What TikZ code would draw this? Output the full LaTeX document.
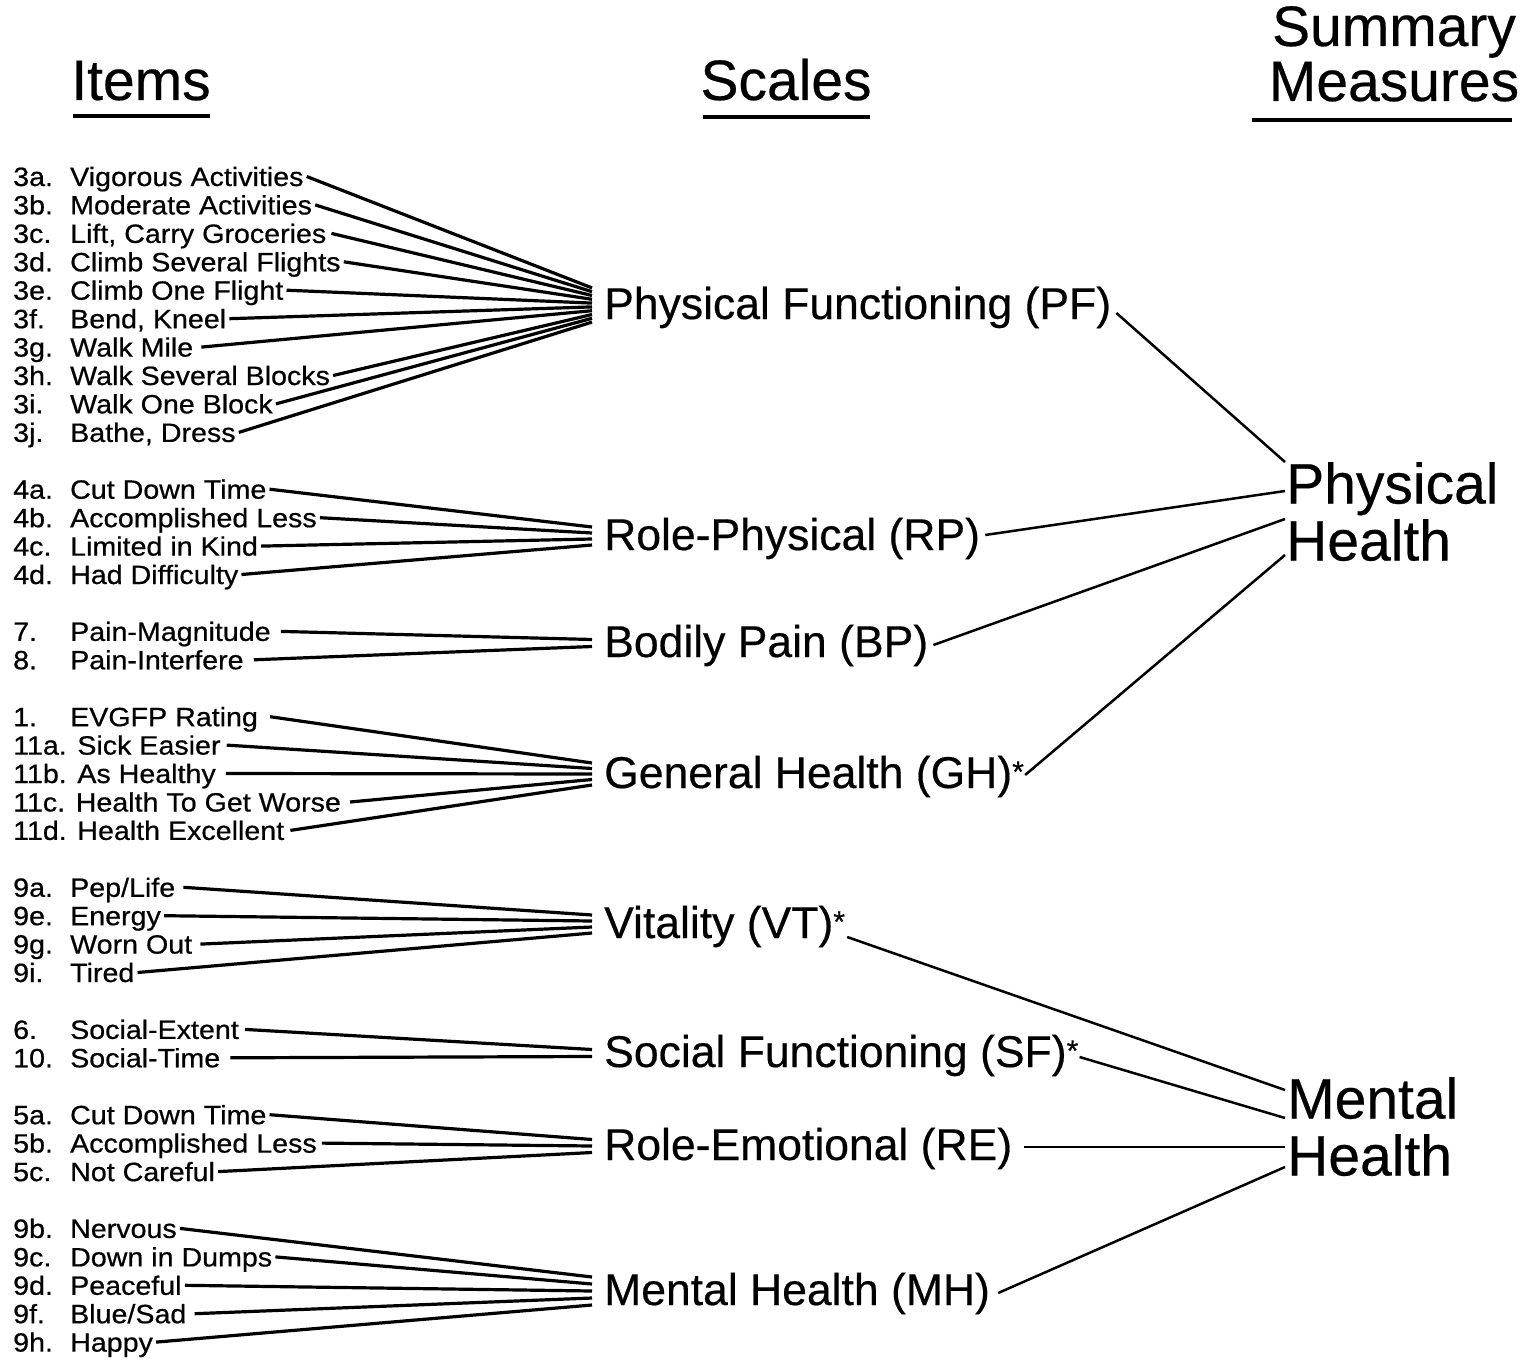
\documentclass[tikz,border=0pt]{standalone}
\usepackage{fontspec}
\setmainfont{Liberation Sans}
\newfontfamily\itemfont[FakeStretch=1.08,FakeBold=0.6]{Liberation Sans}
\newfontfamily\scalefont[FakeBold=0.4]{Liberation Sans}
\newcommand{\nm}[1]{\makebox[57pt][l]{#1}}
\newcommand{\sfast}{\raisebox{6pt}{\fontsize{30pt}{30pt}\selectfont *}}
\begin{document}
\begin{tikzpicture}[x=1pt,y=-1pt,
  itemlbl/.style={anchor=base west, inner sep=0pt, font={\itemfont\fontsize{26.5pt}{26.5pt}\selectfont}},
  scalelbl/.style={anchor=base west, inner sep=0pt, font={\scalefont\fontsize{44.5pt}{44.5pt}\selectfont}},
  hdr/.style={anchor=base, inner sep=0pt, font={\scalefont\fontsize{57pt}{57pt}\selectfont}},
  summ/.style={anchor=north west, inner sep=0pt, align=left, font={\scalefont\fontsize{57pt}{57pt}\selectfont}},
  iline/.style={line width=3.2pt},
  sline/.style={line width=2.5pt},
  uline/.style={line width=4pt}]
\useasboundingbox (0,0) rectangle (1529,1362);

% headers
\node[hdr] (hitems) at (141,100) {Items};
\node[hdr] (hscales) at (786,100) {Scales};
\node[hdr] (hsum1) at (1394,46) {Summary};
\node[hdr] (hsum2) at (1394,101) {Measures};
\draw[uline] (73,116) -- (210,116);
\draw[uline] (703,117) -- (870,117);
\draw[uline] (1252,120) -- (1512,120);

% scales
\node[scalelbl] (pf) at (604,319) {Physical Functioning (PF)};
\node[scalelbl] (rp) at (604,550) {Role-Physical (RP)};
\node[scalelbl] (bp) at (604,657) {Bodily Pain (BP)};
\node[scalelbl] (gh) at (604,788) {General Health (GH)\sfast};
\node[scalelbl] (vt) at (604,938) {Vitality (VT)\sfast};
\node[scalelbl] (sf) at (604,1067) {Social Functioning (SF)\sfast};
\node[scalelbl] (re) at (604,1160) {Role-Emotional (RE)};
\node[scalelbl] (mh) at (604,1305) {Mental Health (MH)};

% summary
\node[summ] (phys) at (1286,462) {Physical\\Health};
\node[summ] (ment) at (1287,1077) {Mental\\Health};

% items
\node[itemlbl] (i3a) at (13,186.0) {\nm{3a.}Vigorous Activities};
\node[itemlbl] (i3b) at (13,214.4) {\nm{3b.}Moderate Activities};
\node[itemlbl] (i3c) at (13,242.9) {\nm{3c.}Lift, Carry Groceries};
\node[itemlbl] (i3d) at (13,271.3) {\nm{3d.}Climb Several Flights};
\node[itemlbl] (i3e) at (13,299.7) {\nm{3e.}Climb One Flight};
\node[itemlbl] (i3f) at (13,328.2) {\nm{3f.}Bend, Kneel};
\node[itemlbl] (i3g) at (13,356.6) {\nm{3g.}Walk Mile};
\node[itemlbl] (i3h) at (13,385.0) {\nm{3h.}Walk Several Blocks};
\node[itemlbl] (i3i) at (13,413.4) {\nm{3i.}Walk One Block};
\node[itemlbl] (i3j) at (13,441.9) {\nm{3j.}Bathe, Dress};

\node[itemlbl] (i4a) at (13,498.7) {\nm{4a.}Cut Down Time};
\node[itemlbl] (i4b) at (13,527.2) {\nm{4b.}Accomplished Less};
\node[itemlbl] (i4c) at (13,555.6) {\nm{4c.}Limited in Kind};
\node[itemlbl] (i4d) at (13,584.0) {\nm{4d.}Had Difficulty};

\node[itemlbl] (i7) at (13,640.9) {\nm{7.}Pain-Magnitude};
\node[itemlbl] (i8) at (13,669.3) {\nm{8.}Pain-Interfere};

\node[itemlbl] (i1) at (13,726.2) {\nm{1.}EVGFP Rating};
\node[itemlbl] (i11a) at (13,754.6) {11a. Sick Easier};
\node[itemlbl] (i11b) at (13,783.0) {11b. As Healthy};
\node[itemlbl] (i11c) at (13,811.5) {11c. Health To Get Worse};
\node[itemlbl] (i11d) at (13,839.9) {11d. Health Excellent};

\node[itemlbl] (i9a) at (13,896.8) {\nm{9a.}Pep/Life};
\node[itemlbl] (i9e) at (13,925.2) {\nm{9e.}Energy};
\node[itemlbl] (i9g) at (13,953.6) {\nm{9g.}Worn Out};
\node[itemlbl] (i9i) at (13,982.0) {\nm{9i.}Tired};

\node[itemlbl] (i6) at (13,1038.9) {\nm{6.}Social-Extent};
\node[itemlbl] (i10) at (13,1067.3) {\nm{10.}Social-Time};

\node[itemlbl] (i5a) at (13,1124.2) {\nm{5a.}Cut Down Time};
\node[itemlbl] (i5b) at (13,1152.6) {\nm{5b.}Accomplished Less};
\node[itemlbl] (i5c) at (13,1181.1) {\nm{5c.}Not Careful};

\node[itemlbl] (i9b) at (13,1237.9) {\nm{9b.}Nervous};
\node[itemlbl] (i9c) at (13,1266.4) {\nm{9c.}Down in Dumps};
\node[itemlbl] (i9d) at (13,1294.8) {\nm{9d.}Peaceful};
\node[itemlbl] (i9f) at (13,1323.2) {\nm{9f.}Blue/Sad};
\node[itemlbl] (i9h) at (13,1351.6) {\nm{9h.}Happy};

% item -> scale connectors
\draw[iline] ([xshift=3pt,yshift=9.5pt]i3a.base east) -- ([xshift=-12pt,yshift=31.1pt]pf.base west);
\draw[iline] ([xshift=3pt,yshift=9.5pt]i3b.base east) -- ([xshift=-12pt,yshift=27.3pt]pf.base west);
\draw[iline] ([xshift=5pt,yshift=9.5pt]i3c.base east) -- ([xshift=-12pt,yshift=23.5pt]pf.base west);
\draw[iline] ([xshift=3pt,yshift=9.5pt]i3d.base east) -- ([xshift=-12pt,yshift=19.7pt]pf.base west);
\draw[iline] ([xshift=3pt,yshift=9.5pt]i3e.base east) -- ([xshift=-12pt,yshift=15.9pt]pf.base west);
\draw[iline] ([xshift=3pt,yshift=9.5pt]i3f.base east) -- ([xshift=-12pt,yshift=12.1pt]pf.base west);
\draw[iline] ([xshift=8pt,yshift=9.5pt]i3g.base east) -- ([xshift=-12pt,yshift=8.3pt]pf.base west);
\draw[iline] ([xshift=3pt,yshift=9.5pt]i3h.base east) -- ([xshift=-12pt,yshift=4.5pt]pf.base west);
\draw[iline] ([xshift=3pt,yshift=9.5pt]i3i.base east) -- ([xshift=-12pt,yshift=0.7pt]pf.base west);
\draw[iline] ([xshift=3pt,yshift=9.5pt]i3j.base east) -- ([xshift=-12pt,yshift=-3.1pt]pf.base west);

\draw[iline] ([xshift=3pt,yshift=9.5pt]i4a.base east) -- ([xshift=-12pt,yshift=23pt]rp.base west);
\draw[iline] ([xshift=3pt,yshift=9.5pt]i4b.base east) -- ([xshift=-12pt,yshift=17pt]rp.base west);
\draw[iline] ([xshift=3pt,yshift=9.5pt]i4c.base east) -- ([xshift=-12pt,yshift=11pt]rp.base west);
\draw[iline] ([xshift=3pt,yshift=9.5pt]i4d.base east) -- ([xshift=-12pt,yshift=5pt]rp.base west);

\draw[iline] ([xshift=10pt,yshift=9.5pt]i7.base east) -- ([xshift=-12pt,yshift=17.5pt]bp.base west);
\draw[iline] ([xshift=10pt,yshift=9.5pt]i8.base east) -- ([xshift=-12pt,yshift=10.5pt]bp.base west);

\draw[iline] ([xshift=12pt,yshift=9.5pt]i1.base east) -- ([xshift=-12pt,yshift=25pt]gh.base west);
\draw[iline] ([xshift=6pt,yshift=9.5pt]i11a.base east) -- ([xshift=-12pt,yshift=19.5pt]gh.base west);
\draw[iline] ([xshift=10pt,yshift=9.5pt]i11b.base east) -- ([xshift=-12pt,yshift=14pt]gh.base west);
\draw[iline] ([xshift=9pt,yshift=9.5pt]i11c.base east) -- ([xshift=-12pt,yshift=8.5pt]gh.base west);
\draw[iline] ([xshift=6pt,yshift=9.5pt]i11d.base east) -- ([xshift=-12pt,yshift=3pt]gh.base west);

\draw[iline] ([xshift=8pt,yshift=9.5pt]i9a.base east) -- ([xshift=-12pt,yshift=23pt]vt.base west);
\draw[iline] ([xshift=3pt,yshift=9.5pt]i9e.base east) -- ([xshift=-12pt,yshift=17pt]vt.base west);
\draw[iline] ([xshift=8pt,yshift=9.5pt]i9g.base east) -- ([xshift=-12pt,yshift=11pt]vt.base west);
\draw[iline] ([xshift=3pt,yshift=9.5pt]i9i.base east) -- ([xshift=-12pt,yshift=5pt]vt.base west);

\draw[iline] ([xshift=6pt,yshift=9.5pt]i6.base east) -- ([xshift=-12pt,yshift=17.5pt]sf.base west);
\draw[iline] ([xshift=10pt,yshift=9.5pt]i10.base east) -- ([xshift=-12pt,yshift=10.5pt]sf.base west);

\draw[iline] ([xshift=3pt,yshift=9.5pt]i5a.base east) -- ([xshift=-12pt,yshift=20.5pt]re.base west);
\draw[iline] ([xshift=5pt,yshift=9.5pt]i5b.base east) -- ([xshift=-12pt,yshift=14pt]re.base west);
\draw[iline] ([xshift=3pt,yshift=9.5pt]i5c.base east) -- ([xshift=-12pt,yshift=7.5pt]re.base west);

\draw[iline] ([xshift=3pt,yshift=9.5pt]i9b.base east) -- ([xshift=-12pt,yshift=28pt]mh.base west);
\draw[iline] ([xshift=3pt,yshift=9.5pt]i9c.base east) -- ([xshift=-12pt,yshift=21pt]mh.base west);
\draw[iline] ([xshift=3pt,yshift=9.5pt]i9d.base east) -- ([xshift=-12pt,yshift=14pt]mh.base west);
\draw[iline] ([xshift=8pt,yshift=9.5pt]i9f.base east) -- ([xshift=-12pt,yshift=7pt]mh.base west);
\draw[iline] ([xshift=3pt,yshift=9.5pt]i9h.base east) -- ([xshift=-12pt,yshift=0pt]mh.base west);

% scale -> summary connectors
\draw[sline] ([xshift=5pt,yshift=6pt]pf.base east) -- ([xshift=-1pt,yshift=0pt]phys.north west);
\draw[sline] ([xshift=5pt,yshift=15pt]rp.base east) -- ([xshift=-1pt,yshift=-29pt]phys.north west);
\draw[sline] ([xshift=5pt,yshift=12pt]bp.base east) -- ([xshift=-1pt,yshift=-57pt]phys.north west);
\draw[sline] ([xshift=1pt,yshift=13pt]gh.base east) -- ([xshift=-1pt,yshift=-93pt]phys.north west);

\draw[sline] ([xshift=2pt,yshift=1pt]vt.base east) -- ([xshift=-2pt,yshift=-13pt]ment.north west);
\draw[sline] ([xshift=1pt,yshift=10pt]sf.base east) -- ([xshift=-2pt,yshift=-41pt]ment.north west);
\draw[sline] ([xshift=12pt,yshift=13pt]re.base east) -- ([xshift=-2pt,yshift=-70pt]ment.north west);
\draw[sline] ([xshift=8pt,yshift=12pt]mh.base east) -- ([xshift=-2pt,yshift=-90pt]ment.north west);
\end{tikzpicture}
\end{document}
